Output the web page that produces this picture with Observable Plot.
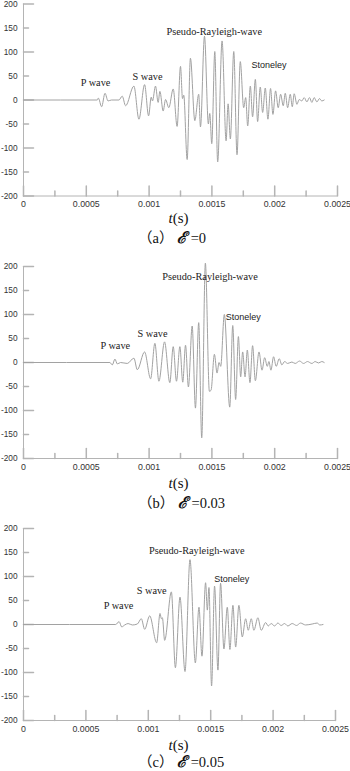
<!DOCTYPE html>
<html><head><meta charset="utf-8">
<script src="https://cdn.jsdelivr.net/npm/d3@7"></script>
<script src="https://cdn.jsdelivr.net/npm/@observablehq/plot@0.6"></script>
<style>
body{margin:0;background:#fff;}
#wrap{position:relative;width:350px;height:771px;overflow:hidden;background:#fff;}
.panel{position:absolute;left:0;}
.xlab{position:absolute;font-family:"Liberation Serif","Times New Roman",serif;font-size:15px;color:#111;white-space:nowrap;transform:translate(-50%,-50%);}
.cap{position:absolute;font-family:"Liberation Serif","DejaVu Serif","Noto Sans CJK SC",serif;font-size:14.5px;color:#111;white-space:nowrap;transform:translateY(-50%);line-height:16px;}
.cap i{font-family:"DejaVu Serif","Liberation Serif",serif;font-style:italic;font-weight:bold;font-size:16px;}
</style></head><body><div id="wrap"></div>
<script>
// ---- data (time in microseconds, amplitude) ----
const timeA = [0,588,596,622,649,673,700,760,786,813,879,919,964,996,1017,1027,1051,1072,1086,1112,1131,1157,1192,1223,1250,1266,1276,1303,1329,1364,1395,1409,1441,1472,1483,1499,1523,1546,1581,1613,1629,1647,1674,1700,1726,1753,1769,1785,1806,1824,1846,1864,1885,1904,1925,1946,1967,1986,2007,2028,2047,2068,2084,2103,2124,2140,2155,2177,2195,2216,2235,2256,2277,2296,2314,2336,2357,2375,2394];
const ampA  = [0,0,4,-14,14,-2,0,0,8,-12,29,-40,32,-33,6,-2,29,-5,18,-23,1,-16,23,-55,70,3,10,-124,87,-43,12,-56,133,-50,-28,-91,101,-129,123,-85,-8,-81,101,-114,80,-16,5,-54,29,-35,43,-45,27,-26,25,-40,24,-30,19,-16,12,-12,14,-16,12,-14,13,-9,1,-2,5,-4,5,-5,5,-4,3,-2,0];

const timeB = [0,688,707,728,747,773,826,879,906,964,1012,1046,1078,1123,1165,1192,1218,1245,1268,1290,1313,1343,1369,1395,1419,1448,1480,1493,1520,1541,1557,1570,1599,1642,1666,1689,1711,1729,1745,1764,1782,1803,1824,1846,1875,1899,1920,1941,1954,1970,1991,2012,2036,2057,2079,2103,2137,2163,2198,2230,2261,2296,2322,2349,2375,2394];
const ampB  = [0,0,-5,7,-3,0,-2,9,-15,22,-34,40,-39,43,-42,33,-39,33,-41,36,-51,76,-95,83,-157,207,-60,-58,17,-22,0,-8,100,-93,77,-77,54,-30,22,-30,26,-42,35,-38,22,-16,10,-8,2,-16,12,-8,8,-5,2,-2,1,-2,3,-2,2,-2,2,-1,2,0];

const timeC = [0,739,766,787,811,838,872,912,944,971,1011,1067,1094,1105,1113,1131,1185,1217,1254,1294,1334,1377,1406,1430,1459,1473,1486,1507,1531,1558,1579,1606,1633,1654,1678,1700,1726,1753,1780,1801,1825,1846,1878,1905,1940,1961,1985,2012,2038,2065,2092,2118,2153,2188,2220,2260,2313,2353,2375,2400];
const ampC  = [0,0,6,-5,-1,2,-1,1,12,-10,18,-38,23,12,14,-33,68,-90,57,-98,135,-80,36,-66,87,30,77,-128,80,-95,86,-51,36,-52,40,-47,40,-26,12,-12,12,-12,14,-12,4,-3,2,-3,3,-2,2,-3,2,-2,3,-1,1,3,-1,0];

const waveNames = ["P wave", "S wave", "Pseudo-Rayleigh-wave", "Stoneley"];
const labelTimeA = [574, 987, 1519, 1954];
const labelAmpA  = [37, 49, 142, 73];
const labelTimeB = [731, 1027, 1485, 1750];
const labelAmpB  = [36, 61, 179, 94];
const labelTimeC = [762, 1027, 1388, 1668];
const labelAmpC  = [40, 71, 153, 94];

const xTickValues = [0, 0.0005, 0.001, 0.0015, 0.002, 0.0025];
const xMinorValues = [0.00025, 0.00075, 0.00125, 0.00175, 0.00225];
const yTickValues = [-200, -150, -100, -50, 0, 50, 100, 150, 200];
const yMajorValues = [-200, -100, 0, 100, 200];
const yMinorValues = [-150, -50, 50, 150];
const captionTags = ["（a）", "（b）", "（c）"];
const epsilonValues = ["0", "0.03", "0.05"];

// ---- drawing ----
const axisColor = "#b4b4b4";
const lineColor = "#a2a2a2";
const serif = "Liberation Serif, Times New Roman, serif";
const sans = "Liberation Sans, Arial, sans-serif";
const tickUp = {draw(ctx, l) { ctx.moveTo(0, 0); ctx.lineTo(0, -l); }};
const tickRight = {draw(ctx, l) { ctx.moveTo(0, 0); ctx.lineTo(l, 0); }};

const wrap = document.getElementById("wrap");

function makePanel(times, amps, lt, lv, idx, layout) {
  const data = times.map((t, i) => ({t: t * 1e-6, v: amps[i]}));
  const labels = waveNames.map((name, i) => ({name, t: lt[i] * 1e-6, v: lv[i]}));
  const plotH = 192, mb = 14;
  const chart = Plot.plot({
    width: 350,
    height: layout.mt + plotH + mb,
    marginTop: layout.mt, marginBottom: mb, marginLeft: 23, marginRight: layout.mr,
    x: {domain: [0, 0.0025]},
    y: {domain: [-200, 200]},
    style: {fontFamily: sans, background: "transparent", overflow: "visible", color: "#333"},
    marks: [
      Plot.ruleX([0], {stroke: axisColor}),
      Plot.ruleY([-200], {stroke: axisColor}),
      Plot.vectorX(xTickValues, {frameAnchor: "bottom", length: 10, shape: tickUp, anchor: "start", stroke: axisColor}),
      Plot.vectorX(xMinorValues, {frameAnchor: "bottom", length: 5, shape: tickUp, anchor: "start", stroke: axisColor}),
      Plot.vectorY(yMajorValues, {frameAnchor: "left", length: 10, shape: tickRight, anchor: "start", stroke: axisColor}),
      Plot.vectorY(yMinorValues, {frameAnchor: "left", length: 5, shape: tickRight, anchor: "start", stroke: axisColor}),
      Plot.axisX({ticks: xTickValues, tickSize: 0, tickPadding: 5, tickFormat: d => String(d), fontSize: 8.8, label: null, fill: "#333"}),
      Plot.axisY({ticks: yTickValues, tickSize: 0, tickPadding: 6, tickFormat: d => String(d), fontSize: 8.3, label: null, fill: "#333"}),
      Plot.line(data, {x: "t", y: "v", curve: "monotone-x", stroke: lineColor, strokeWidth: 1}),
      Plot.text(labels.filter(d => d.name !== "Stoneley"), {x: "t", y: "v", text: "name", fontFamily: serif, fontSize: 10.3, fill: "#222"}),
      Plot.text(labels.filter(d => d.name === "Stoneley"), {x: "t", y: "v", text: "name", fontFamily: sans, fontSize: 9, fill: "#222"})
    ]
  });
  const div = document.createElement("div");
  div.className = "panel";
  div.style.top = layout.top + "px";
  div.appendChild(chart);
  wrap.appendChild(div);

  const xl = document.createElement("div");
  xl.className = "xlab";
  xl.style.left = "178.5px";
  xl.style.top = layout.tTop + "px";
  xl.innerHTML = "<i>t</i>(s)";
  wrap.appendChild(xl);

  const cap = document.createElement("div");
  cap.className = "cap";
  cap.style.left = "138px";
  cap.style.top = layout.capTop + "px";
  cap.innerHTML = captionTags[idx] + " <i>ℰ</i> =" + epsilonValues[idx];
  wrap.appendChild(cap);
}

makePanel(timeA, ampA, labelTimeA, labelAmpA, 0, {top: 0, mt: 3.5, mr: 13, tTop: 218.3, capTop: 238.3});
makePanel(timeB, ampB, labelTimeB, labelAmpB, 1, {top: 262, mt: 4, mr: 13, tTop: 482.7, capTop: 503});
makePanel(timeC, ampC, labelTimeC, labelAmpC, 2, {top: 524, mt: 4, mr: 15, tTop: 745, capTop: 761.5});
</script>
</body></html>
